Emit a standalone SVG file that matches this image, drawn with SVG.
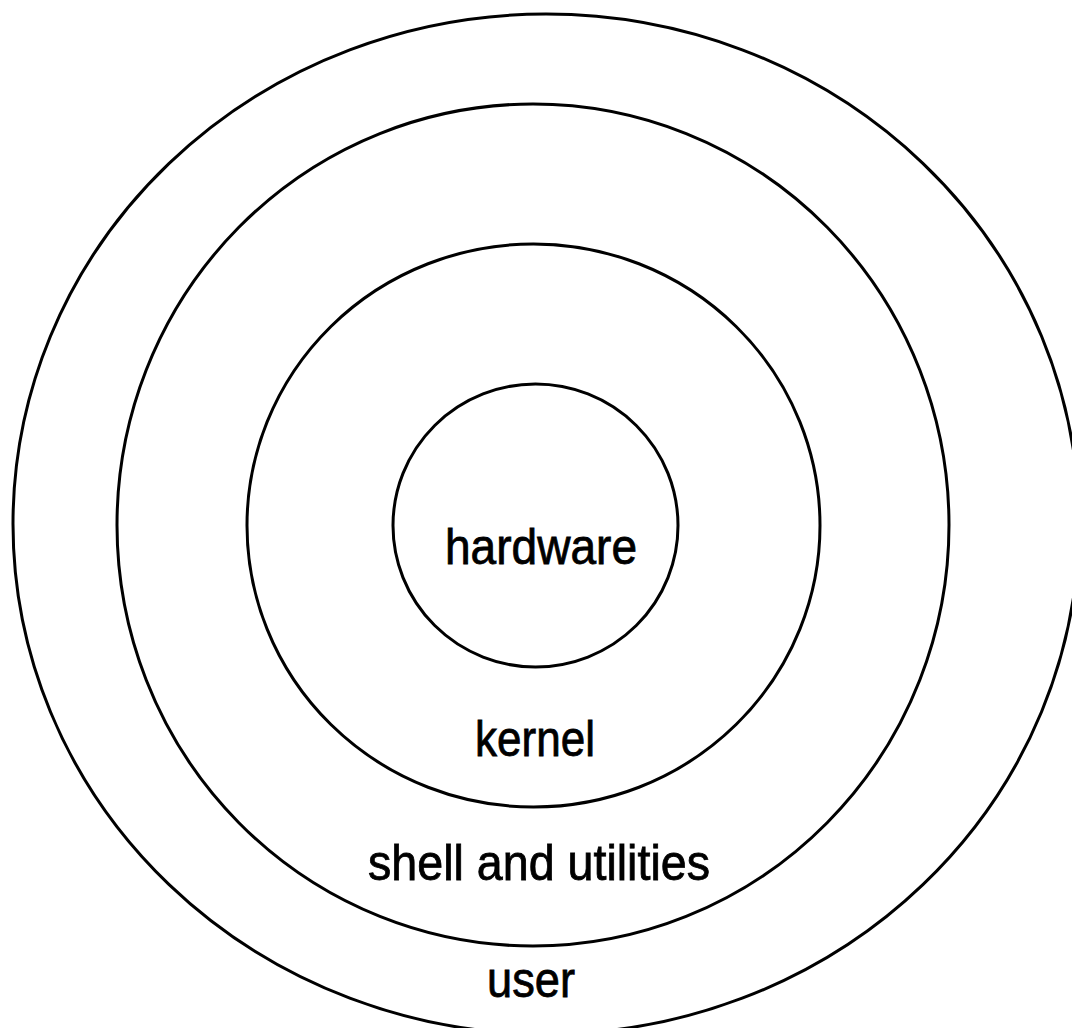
<svg xmlns="http://www.w3.org/2000/svg" width="1072" height="1028" viewBox="0 0 1072 1028">
  <style>
    .ring { fill: none; stroke: #000; stroke-width: 3; }
    .label { font-family: "Liberation Sans", Arial, Helvetica, sans-serif; font-size: 50px; fill: #000; stroke: #000; stroke-width: 0.8; text-anchor: middle; }
  </style>
  <rect width="1072" height="1028" fill="#fff"/>
  <!-- layers, outermost first -->
  <g id="user">
    <ellipse class="ring" cx="546" cy="524" rx="533" ry="510"/>
    <text class="label" x="531" y="997" textLength="88" lengthAdjust="spacingAndGlyphs">user</text>
  </g>
  <g id="shell">
    <ellipse class="ring" cx="533" cy="525" rx="416" ry="421"/>
    <text class="label" x="539" y="880" textLength="342" lengthAdjust="spacingAndGlyphs">shell and utilities</text>
  </g>
  <g id="kernel">
    <ellipse class="ring" cx="533.5" cy="525.5" rx="286.5" ry="281.5"/>
    <text class="label" x="535" y="756" textLength="120" lengthAdjust="spacingAndGlyphs">kernel</text>
  </g>
  <g id="hardware">
    <ellipse class="ring" cx="535.5" cy="525.5" rx="142.5" ry="141.5"/>
    <text class="label" x="541" y="564" textLength="192" lengthAdjust="spacingAndGlyphs">hardware</text>
  </g>
</svg>
